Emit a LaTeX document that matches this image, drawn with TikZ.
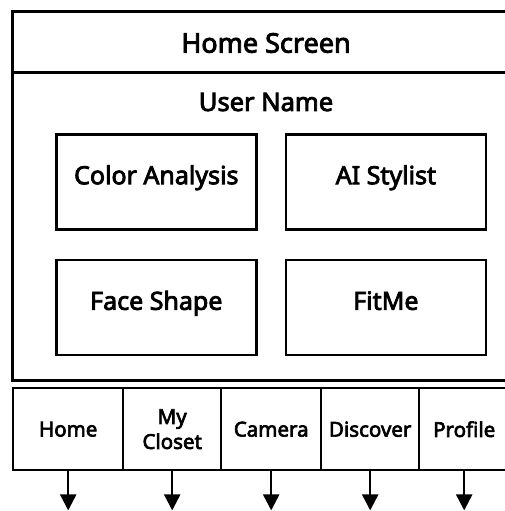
\documentclass[tikz,border=0pt]{standalone}
\usepackage{fontspec}
\setmainfont{Noto Sans}[BoldFont=Noto Sans, BoldFeatures={FakeBold=3.2}]
\usetikzlibrary{positioning, arrows.meta}

\begin{document}
\begin{tikzpicture}[x=1pt, y=-1pt,
    frame/.style={draw, line width=3pt},
    card/.style={draw, line width=2.6pt, minimum width=200pt, minimum height=95pt,
        inner sep=0pt, text height=0.72em, text depth=0.24em,
        font=\bfseries\fontsize{25}{27}\selectfont},
    tab/.style={draw, line width=2.4pt, minimum height=82pt, inner sep=0pt,
        align=center, font=\bfseries\fontsize{20.5}{25}\selectfont},
    navarrow/.style={-{Triangle[length=16pt,width=16pt]}, line width=2.4pt}]
    \useasboundingbox (0,0) rectangle (505,511);

    % Main screen frame
    \draw[frame] (508,12) -- (12,12) -- (12,380) -- (508,380);
    \draw[frame] (12,72) -- (508,72);
    \node[font=\bfseries\fontsize{27}{29}\selectfont] (title) at (266,43) {Home Screen};
    \node[font=\bfseries\fontsize{25.5}{27}\selectfont] (user) at (266,102) {User Name};

    % Feature cards
    \node[card, anchor=north west] (color) at (55,133) {Color Analysis};
    \node[card, right=27pt of color] (stylist) {AI Stylist};
    \node[card, below=28pt of color] (face) {Face Shape};
    \node[card, below=28pt of stylist] (fitme) {FitMe};

    % Bottom navigation bar
    \foreach \i/\x/\w/\txt in {1/12/110/Home, 2/122/98/{My\\Closet}, 3/220/100/Camera,
                               4/320/98/Discover, 5/418/90/Profile} {
        \node[tab, minimum width=\w pt, anchor=north west] (tab\i) at (\x,387) {\txt};
        \coordinate[below=39pt of tab\i] (end\i);
        \draw[navarrow] (tab\i.south) -- (end\i);
    }
\end{tikzpicture}
\end{document}
